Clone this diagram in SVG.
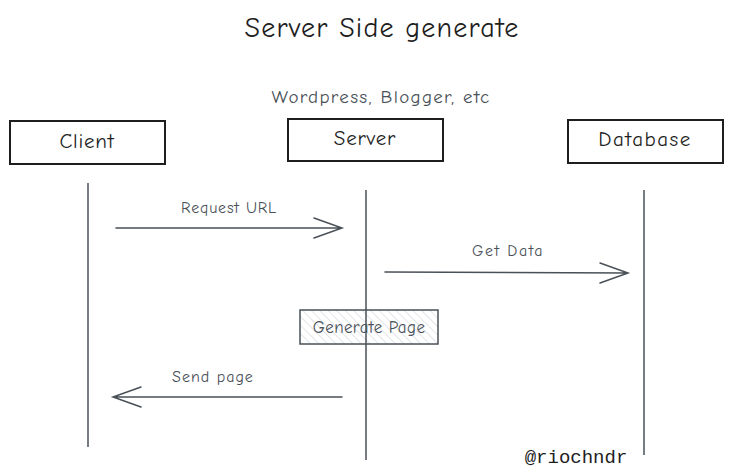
<svg xmlns="http://www.w3.org/2000/svg" width="733" height="476" viewBox="0 0 733 476">
<style>
.t{font-family:"Comic Neue","Liberation Sans",sans-serif;fill:#1e1e1e}
.g{font-family:"Comic Neue","Liberation Sans",sans-serif;fill:#495057}
.box{fill:#fff;stroke:#1e1e1e;stroke-width:2}
.life{stroke:#495057;stroke-width:1.5;fill:none}
.arr{stroke:#495057;stroke-width:1.5;fill:none;stroke-linecap:round}
</style>
<defs>
<pattern id="hatch" width="6" height="6" patternUnits="userSpaceOnUse" patternTransform="rotate(-45)">
<line x1="0" y1="0" x2="0" y2="6" stroke="#ced4da" stroke-width="1.2"/>
</pattern>
</defs>
<rect width="733" height="476" fill="#fff"/>
<text class="t" x="382" y="37" font-size="28" letter-spacing="1.2" text-anchor="middle">Server Side generate</text>
<text class="g" x="381" y="103" font-size="19" letter-spacing="1.3" text-anchor="middle">Wordpress, Blogger, etc</text>
<g id="client">
<rect class="box" x="10" y="121" width="155" height="43"/>
<text class="t" x="87" y="148" font-size="21" letter-spacing="0.8" text-anchor="middle">Client</text>
</g>
<g id="server">
<rect class="box" x="288" y="119" width="155" height="42"/>
<text class="t" x="365" y="145" font-size="21" letter-spacing="0.8" text-anchor="middle">Server</text>
</g>
<g id="database">
<rect class="box" x="568" y="120" width="155" height="43"/>
<text class="t" x="645" y="146" font-size="21" letter-spacing="1.5" text-anchor="middle">Database</text>
</g>
<g id="generate-page">
<rect x="300" y="310" width="138" height="34" fill="url(#hatch)" stroke="#495057" stroke-width="1.5"/>
<text class="g" x="369" y="333" font-size="17" letter-spacing="0.4" text-anchor="middle">Generate Page</text>
</g>
<g id="connectors">
<line class="life" x1="88" y1="183" x2="88" y2="447"/>
<line class="life" x1="366" y1="190" x2="366" y2="460"/>
<line class="life" x1="644" y1="190" x2="644" y2="455"/>
<path class="arr" d="M116 228 L342 228 M314 218 L342 228 L314 238"/>
<path class="arr" d="M385 272 L628 273 M600 263 L628 273 L600 283"/>
<path class="arr" d="M342 397 L113 397 M141 387 L113 397 L141 407"/>
</g>
<text class="g" x="229" y="213" font-size="16" letter-spacing="0.8" text-anchor="middle">Request URL</text>
<text class="g" x="508" y="256" font-size="16" letter-spacing="1.5" text-anchor="middle">Get Data</text>
<text class="g" x="213" y="382" font-size="16" letter-spacing="1" text-anchor="middle">Send page</text>
<text x="576" y="463" font-size="19" text-anchor="middle" font-family="'Liberation Mono',monospace" fill="#1e1e1e">@riochndr</text>
</svg>
